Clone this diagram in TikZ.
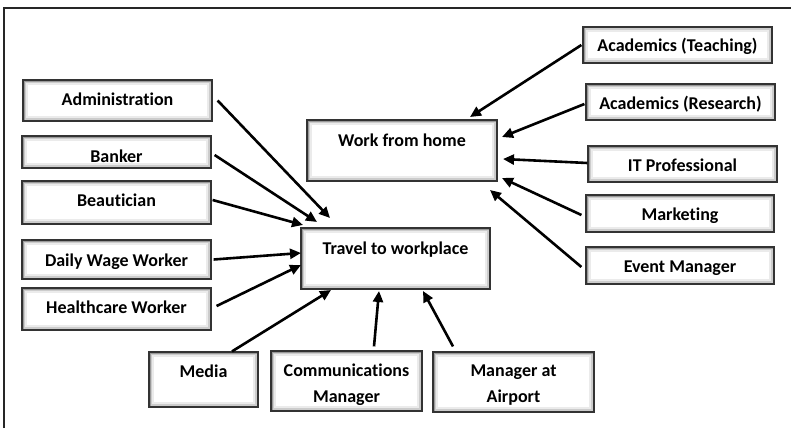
\documentclass[tikz,border=0pt]{standalone}
\usepackage{fontspec}
\setmainfont{Carlito}[Ligatures=NoCommon]
\usetikzlibrary{arrows.meta}

\tikzset{
  box/.style={draw=black!80, line width=1.2pt, fill=white, inner sep=0pt,
    path picture={
      \draw[black!8, line width=10pt] (path picture bounding box.south west) rectangle (path picture bounding box.north east);
      \draw[black!20, line width=6pt] (path picture bounding box.south west) rectangle (path picture bounding box.north east);
      \draw[black!40, line width=3pt] (path picture bounding box.south west) rectangle (path picture bounding box.north east);
    }},
  lbl/.style={anchor=base, inner sep=0pt, align=center,
    font=\fontsize{18}{26}\selectfont\bfseries},
  flow/.style={line width=2.6pt, draw=black,
    -{Triangle[length=11pt,width=10pt]}},
  frameline/.style={line width=1.2pt, draw=black!85}
}

\begin{document}
\begin{tikzpicture}[x=1pt,y=-1pt]
\useasboundingbox (0,0) rectangle (791,428);

% page frame
\draw[frameline] (4,428) -- (4,8) -- (791,8);

% central boxes
\node[box, minimum width=189pt, minimum height=61pt] (twp) at (395.5,258.5) {};
\node[box, minimum width=190pt, minimum height=61pt] (wfh) at (402,150.5) {};

% occupations travelling to the workplace
\node[box, minimum width=189pt, minimum height=41pt] (adm) at (117.5,100.5) {};
\node[box, minimum width=189pt, minimum height=32pt] (bnk) at (116.5,152) {};
\node[box, minimum width=189pt, minimum height=43pt] (btc) at (116.5,202.5) {};
\node[box, minimum width=189pt, minimum height=39pt] (dww) at (116.5,259.5) {};
\node[box, minimum width=189pt, minimum height=42pt] (hcw) at (116.5,309) {};
\node[box, minimum width=109pt, minimum height=55pt] (med) at (203.5,379.5) {};
\node[box, minimum width=151pt, minimum height=60pt] (com) at (346.5,381) {};
\node[box, minimum width=161pt, minimum height=60pt] (mgr) at (513.5,382) {};

% occupations working from home
\node[box, minimum width=189pt, minimum height=36pt] (act) at (677.5,45) {};
\node[box, minimum width=189pt, minimum height=36pt] (acr) at (680.5,102) {};
\node[box, minimum width=189pt, minimum height=36pt] (itp) at (682.5,164) {};
\node[box, minimum width=188pt, minimum height=37pt] (mkt) at (680,213.5) {};
\node[box, minimum width=188pt, minimum height=37pt] (evm) at (680,265.5) {};

% labels (base anchor sits on the last line of a two-line label)
\node[lbl] at (402,146) {Work from home};
\node[lbl] at (395.5,254) {Travel to workplace};
\node[lbl] at (117.5,105) {Administration};
\node[lbl] at (116.5,162) {Banker};
\node[lbl] at (116.5,206) {Beautician};
\node[lbl] at (116.5,266) {Daily Wage Worker};
\node[lbl] at (116.5,313) {Healthcare Worker};
\node[lbl] at (203.5,377) {Media};
\node[lbl] at (346.5,402) {Communications\\Manager};
\node[lbl] at (513.5,402) {Manager at\\Airport};
\node[lbl] at (677.5,52) {Academics (Teaching)};
\node[lbl] at (680.5,109) {Academics (Research)};
\node[lbl] at (682.5,171) {IT Professional};
\node[lbl] at (680,220) {Marketing};
\node[lbl] at (680,272) {Event Manager};

% arrow tips near the target boxes
\coordinate (tAdm) at (330,218);
\coordinate (tBnk) at (317,222);
\coordinate (tBtc) at (303,225);
\coordinate (tDww) at (301,253);
\coordinate (tHcw) at (301,265);
\coordinate (tMed) at (331,290);
\coordinate (tCom) at (379,291);
\coordinate (tMgr) at (423,291);
\coordinate (tAct) at (470,117);
\coordinate (tAcr) at (502,137);
\coordinate (tItp) at (503,159);
\coordinate (tMkt) at (502,178);
\coordinate (tEvm) at (490,190);

% connectors into "Travel to workplace"
\draw[flow] ([xshift=5pt]adm.east) -- (tAdm);
\draw[flow] ([shift={(3pt,-3pt)}]bnk.east) -- (tBnk);
\draw[flow] ([shift={(1pt,2.5pt)}]btc.east) -- (tBtc);
\draw[flow] ([xshift=2pt]dww.east) -- (tDww);
\draw[flow] ([shift={(5pt,3pt)}]hcw.east) -- (tHcw);
\draw[flow] ([xshift=28.5pt]med.north) -- (tMed);
\draw[flow] ([shift={(27.5pt,4pt)}]com.north) -- (tCom);
\draw[flow] ([shift={(-60.5pt,5pt)}]mgr.north) -- (tMgr);

% connectors into "Work from home"
\draw[flow] ([xshift=-1pt]act.west) -- (tAct);
\draw[flow] ([shift={(-1pt,-2pt)}]acr.west) -- (tAcr);
\draw[flow] ([yshift=1pt]itp.west) -- (tItp);
\draw[flow] ([shift={(-4pt,-1.5pt)}]mkt.west) -- (tMkt);
\draw[flow] ([shift={(-4pt,-1.5pt)}]evm.west) -- (tEvm);
\end{tikzpicture}
\end{document}
